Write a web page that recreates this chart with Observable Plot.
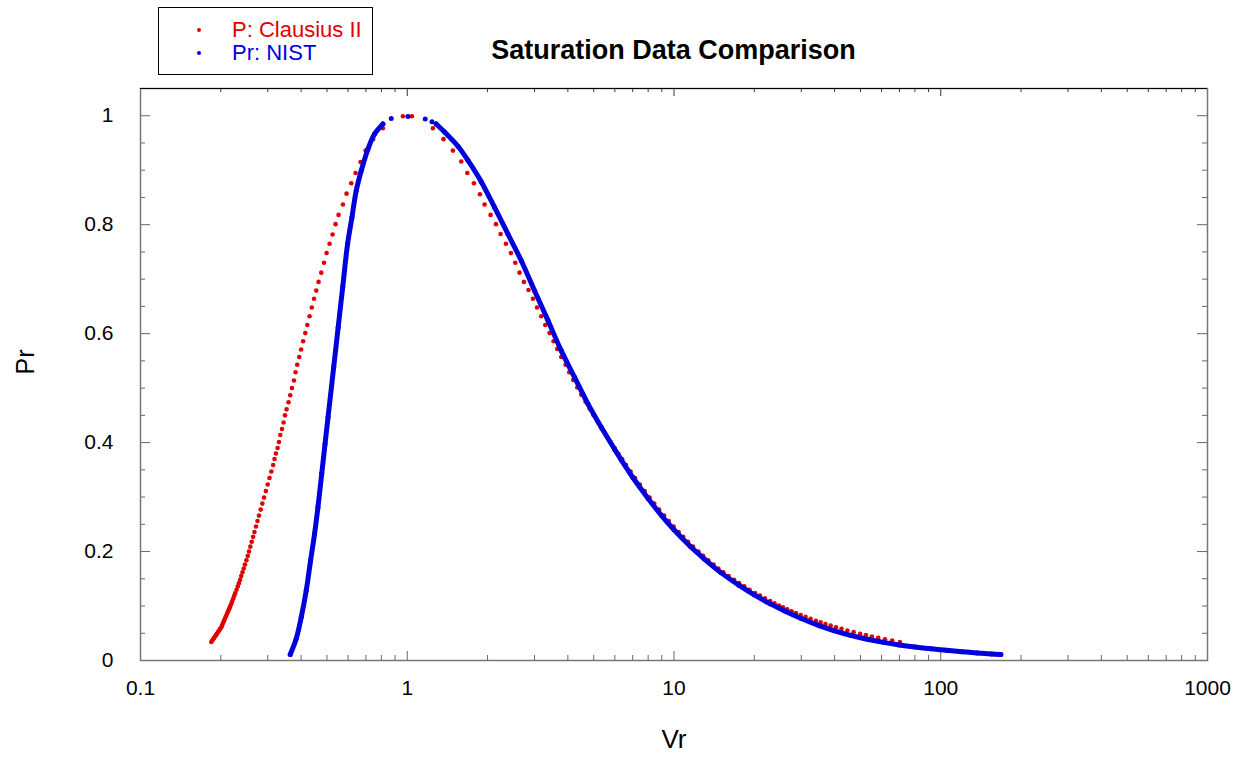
<!DOCTYPE html>
<html>
<head>
<meta charset="utf-8">
<script src="https://cdn.jsdelivr.net/npm/d3@7"></script>
<script src="https://cdn.jsdelivr.net/npm/@observablehq/plot@0.6"></script>
<style>
  body { margin: 0; background: #fff; }
  #wrap { position: relative; width: 1242px; height: 759px; font-family: "Liberation Sans", Arial, sans-serif; color: #000; }
  #wrap svg { position: absolute; left: 0; top: 0; }
  #title { position: absolute; left: 140px; width: 1067px; top: 36.8px; text-align: center; font-weight: bold; font-size: 27px; line-height: 27px; }
  #legend { position: absolute; left: 158px; top: 7px; width: 215px; height: 68px; border: 1.5px solid #000; box-sizing: border-box; background: #fff; }
  .row { position: absolute; left: 0; height: 22px; font-size: 22px; line-height: 22px; white-space: nowrap; }
  .row .sw { position: absolute; left: 37.5px; top: 8.7px; width: 4.5px; height: 4.5px; border-radius: 50%; }
  .row .lab { position: absolute; left: 73px; top: 0; }
</style>
</head>
<body>
<div id="wrap">
  <div id="title">Saturation Data Comparison</div>
  <div id="legend">
    <div class="row" style="top:11.3px"><span class="sw" style="background:#e00000"></span><span class="lab" style="color:#e00000">P: Clausius II</span></div>
    <div class="row" style="top:34.3px"><span class="sw" style="background:#0000dd"></span><span class="lab" style="color:#0000dd">Pr: NIST</span></div>
  </div>
</div>
<script>
// ---- axes / ticks ----
const xDomain = [0.1, 1000];
const yDomain = [0, 1.05];
const xMajorTicks = [0.1, 1, 10, 100, 1000];
const xMinorTicks = [0.2,0.3,0.4,0.5,0.6,0.7,0.8,0.9, 2,3,4,5,6,7,8,9, 20,30,40,50,60,70,80,90, 200,300,400,500,600,700,800,900];
const yMajorTicks = [0, 0.2, 0.4, 0.6, 0.8, 1];
const yMinorTicks = [0.05,0.1,0.15,0.25,0.3,0.35,0.45,0.5,0.55,0.65,0.7,0.75,0.85,0.9,0.95];

// ---- P: Clausius II (liquid branch, rising) ----
const clausiusLiquidVr = [0.1842,0.1857,0.1872,0.1887,0.1902,0.1917,0.1932,0.1951,0.1970,0.1989,0.2008,0.2020,0.2032,0.2044,0.2057,0.2071,0.2086,0.2101,0.2115,0.2131,0.2146,0.2161,0.2176,0.2193,0.2208,0.2228,0.2247,0.2267,0.2291,0.2315,0.2339,0.2361,0.2386,0.2412,0.2438,0.2464,0.2495,0.2524,0.2551,0.2581,0.2612,0.2643,0.2674,0.2710,0.2745,0.2781,0.2822,0.2863,0.2905,0.2951,0.2998,0.3045,0.3094,0.3143,
  0.3180,0.3219,0.3265,0.3304,0.3342,0.3392,0.3439,0.3481,0.3529,0.3589,0.3642,0.3696,0.3761,0.3813,0.3869,0.3937,0.4000,0.4070,0.4147,0.4219,0.4303,0.4387,0.4472,0.4559,0.4651,0.4761,0.4873,0.4984,0.5115,0.5248,0.5385,0.5527,0.5741,0.5922,0.6167,0.6400,0.6682,0.6978,0.745,0.8107,0.9636];
const clausiusLiquidPr = [0.034,0.0365,0.039,0.0415,0.044,0.0465,0.049,0.052,0.055,0.058,0.061,0.064,0.067,0.070,0.073,0.0765,0.080,0.0835,0.087,0.0905,0.094,0.0975,0.101,0.105,0.109,0.114,0.119,0.124,0.130,0.136,0.142,0.148,0.155,0.162,0.169,0.176,0.184,0.192,0.200,0.209,0.218,0.227,0.236,0.246,0.256,0.266,0.277,0.288,0.299,0.311,0.323,0.335,0.347,0.359,
  0.370,0.380,0.390,0.401,0.414,0.425,0.437,0.450,0.461,0.474,0.487,0.500,0.514,0.529,0.543,0.557,0.571,0.586,0.601,0.616,0.632,0.648,0.664,0.679,0.695,0.712,0.730,0.748,0.765,0.782,0.801,0.818,0.837,0.857,0.876,0.895,0.915,0.936,0.957,0.977,0.999];

// ---- P: Clausius II (vapour branch, falling) ----
const clausiusVaporVr = [1.041,1.248,1.368,1.483,1.594,1.679,1.778,1.873,1.949,2.053,2.150,2.238,2.344,2.448,2.541,2.636,2.738,2.849,2.960,3.064,3.180,3.291,3.416,3.536,3.650,3.778,3.921,4.049,4.191,4.339,4.491,4.661,4.825,4.994,5.187,5.370,5.572,5.783,5.986,6.197,6.397,
  6.610,6.873,7.149,7.446,7.765,8.100,8.431,8.791,9.180,9.563,9.967,10.41,10.83,11.29,11.79,12.34,12.86,13.44,14.07,14.66,15.31,16.03,16.80,17.54,18.33,19.19,20.14,21.00,21.93,22.94,23.81,24.75,25.63,26.57,27.58,28.67,29.84,31.13,32.52,34.04,35.46,36.99,38.66,40.48,42.47,44.67,47.13,49.88,52.41,55.18,58.29,61.79,65.75,70.29];
const clausiusVaporPr = [0.999,0.977,0.957,0.936,0.916,0.895,0.876,0.856,0.837,0.818,0.801,0.783,0.765,0.748,0.730,0.712,0.695,0.680,0.664,0.648,0.632,0.616,0.601,0.586,0.572,0.557,0.543,0.529,0.515,0.501,0.488,0.475,0.462,0.450,0.437,0.425,0.413,0.401,0.390,0.379,0.370,
  0.359,0.347,0.335,0.323,0.311,0.299,0.288,0.277,0.266,0.256,0.246,0.236,0.227,0.218,0.209,0.200,0.192,0.184,0.176,0.169,0.162,0.155,0.148,0.142,0.136,0.130,0.124,0.119,0.114,0.109,0.105,0.101,0.0975,0.094,0.0905,0.087,0.0835,0.080,0.0765,0.073,0.070,0.067,0.064,0.061,0.058,0.055,0.052,0.049,0.0465,0.044,0.0415,0.039,0.0365,0.034];

// ---- Pr: NIST (liquid branch) ----
const nistLiquidVr = [0.3642,0.3835,0.4005,0.4181,0.4341,0.4493,0.4626,0.4779,0.4918,0.5047,0.5299,0.5509,0.5728,0.5975,0.6204,0.6437,0.6722,0.7124,0.7542,0.8107,0.8710,1.006];
const nistLiquidPr = [0.011,0.0398,0.0794,0.1284,0.1835,0.2325,0.2813,0.3426,0.3976,0.4464,0.5382,0.6116,0.6850,0.7646,0.8134,0.8624,0.8991,0.9389,0.9664,0.9848,0.9950,0.9987];

// ---- Pr: NIST (vapour branch) ----
const nistVaporVr = [1.168,1.238,1.284,1.380,1.549,1.689,1.894,2.125,2.385,2.676,3.001,3.370,3.778,4.239,4.758,5.338,5.986,6.343,7.0,8.0,9.0,10,11.5,13,15,17.5,20,23,26,30,35,40,46,53,61,70,80,92,105,120,137,155,168];
const nistVaporPr = [0.9939,0.989,0.9848,0.9700,0.9440,0.9180,0.8790,0.8317,0.7829,0.7339,0.6789,0.6239,0.5688,0.5198,0.4710,0.4280,0.3880,0.3684,0.3364,0.2975,0.2656,0.240,0.2096,0.1862,0.1613,0.1383,0.1205,0.1039,0.0908,0.0770,0.0640,0.0545,0.0461,0.0391,0.0333,0.0286,0.0248,0.0214,0.0187,0.0162,0.0139,0.0121,0.0110];

const rows = (vr, pr, branch) => vr.map((v, i) => ({vr: v, pr: pr[i], branch}));
const clausius = [...rows(clausiusLiquidVr, clausiusLiquidPr, "liquid"), ...rows(clausiusVaporVr, clausiusVaporPr, "vapor")];
const nist = [...rows(nistLiquidVr, nistLiquidPr, "liquid"), ...rows(nistVaporVr, nistVaporPr, "vapor")];

const W = 1242, H = 759, mL = 140, mT = 88, mR = 35, mB = 99;
const iW = W - mL - mR, iH = H - mT - mB;
const tickColor = "#666";
const red = "#e00000", blue = "#0000dd";

const chart = Plot.plot({
  width: W, height: H,
  marginLeft: mL, marginTop: mT, marginRight: mR, marginBottom: mB,
  style: {fontFamily: '"Liberation Sans", Arial, sans-serif', background: "transparent", color: "#000"},
  x: {type: "log", domain: xDomain},
  y: {domain: yDomain},
  marks: [
    Plot.axisX({ticks: xMajorTicks, tickSize: 0, tickPadding: 20, tickFormat: d => String(d), fontSize: 21, label: null}),
    Plot.axisY({ticks: yMajorTicks, tickSize: 0, tickPadding: 27, tickFormat: d => String(d), fontSize: 21, label: null}),
    // inward ticks, all four sides
    Plot.tickY(yMajorTicks, {y: d => d, insetRight: iW - 10, stroke: tickColor}),
    Plot.tickY(yMinorTicks, {y: d => d, insetRight: iW - 5, stroke: tickColor}),
    Plot.tickY(yMajorTicks, {y: d => d, insetLeft: iW - 10, stroke: tickColor}),
    Plot.tickY(yMinorTicks, {y: d => d, insetLeft: iW - 5, stroke: tickColor}),
    Plot.tickX(xMajorTicks, {x: d => d, insetTop: iH - 9, stroke: tickColor}),
    Plot.tickX(xMinorTicks, {x: d => d, insetTop: iH - 5, stroke: tickColor}),
    Plot.tickX(xMajorTicks, {x: d => d, insetBottom: iH - 8, stroke: "#333"}),
    Plot.tickX(xMinorTicks, {x: d => d, insetBottom: iH - 4, stroke: "#333"}),
    Plot.frame({stroke: "#777", strokeWidth: 1.5}),
    Plot.ruleY([yDomain[1]], {stroke: "#000", strokeWidth: 1}),
    // data
    Plot.dot(clausius, {x: "vr", y: "pr", r: 2.3, fill: red}),
    Plot.line(nist.filter(d => d.pr <= 0.985), {x: "vr", y: "pr", z: "branch", stroke: blue, strokeWidth: 5, curve: "catmull-rom", strokeLinecap: "round"}),
    Plot.dot(nist, {x: "vr", y: "pr", r: 2.5, fill: blue}),
    // axis titles
    Plot.text(["Vr"], {text: d => d, frameAnchor: "bottom", dy: 87, fontSize: 26}),
    Plot.text(["Pr"], {text: d => d, frameAnchor: "left", dx: -115, rotate: -90, fontSize: 25})
  ]
});
document.getElementById("wrap").prepend(chart);
</script>
</body>
</html>
